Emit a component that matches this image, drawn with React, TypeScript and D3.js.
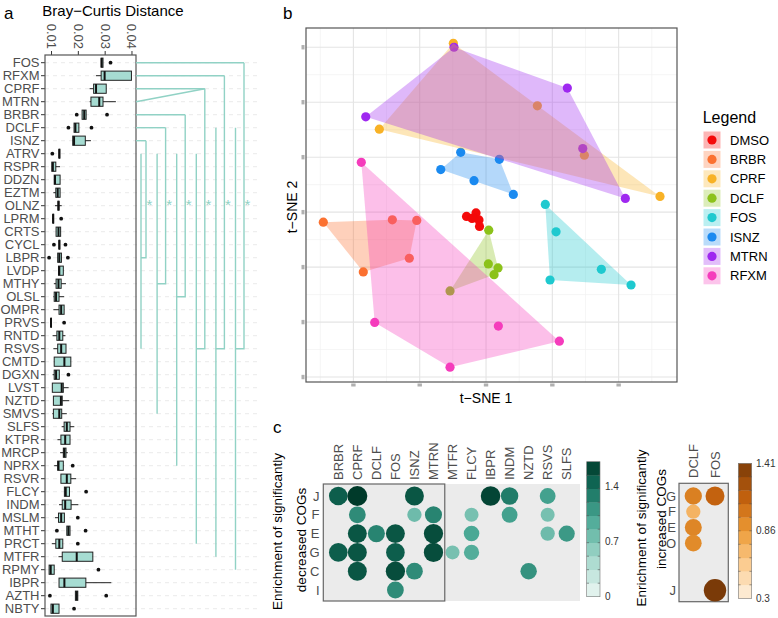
import React from "react";
import * as d3 from "d3";

const FONT = "'Liberation Sans', Arial, Helvetica, sans-serif";
const AXIS_GREY = "#4d4d4d";

// ---------------- Panel a data ----------------
const rowsA = ["FOS","RFXM","CPRF","MTRN","BRBR","DCLF","ISNZ","ATRV","RSPR","DDZN","EZTM","OLNZ","LPRM","CRTS","CYCL","LBPR","LVDP","MTHY","OLSL","OMPR","PRVS","RNTD","RSVS","CMTD","DGXN","LVST","NZTD","SMVS","SLFS","KTPR","MRCP","NPRX","RSVR","FLCY","INDM","MSLM","MTHT","PRCT","MTFR","RPMY","IBPR","AZTH","NBTY"];
const boxLo = [0.0285,0.0266,0.0242,0.0242,0.0214,0.0184,0.0179,0.0128,0.0101,0.0110,0.0107,0.0113,0.0102,0.0117,0.0128,0.0123,0.0126,0.0109,0.0107,0.0107,0.0097,0.0104,0.0107,0.0110,0.0104,0.0103,0.0107,0.0103,0.0138,0.0122,0.0132,0.0110,0.0135,0.0148,0.0128,0.0113,0.0157,0.0101,0.0126,0.0091,0.0128,0.0189,0.0098];
const boxQ1 = [0.0285,0.0285,0.0257,0.0247,0.0214,0.0184,0.0179,0.0128,0.0101,0.0110,0.0116,0.0124,0.0105,0.0117,0.0128,0.0123,0.0126,0.0117,0.0110,0.0128,0.0097,0.0120,0.0123,0.0110,0.0110,0.0103,0.0107,0.0107,0.0147,0.0135,0.0144,0.0123,0.0135,0.0148,0.0140,0.0126,0.0157,0.0116,0.0140,0.0091,0.0128,0.0189,0.0098];
const boxMed = [0.0287,0.0298,0.0266,0.0278,0.0222,0.0189,0.0184,0.0129,0.0105,0.0113,0.0123,0.0126,0.0106,0.0126,0.0129,0.0129,0.0129,0.0126,0.0117,0.0136,0.0098,0.0129,0.0136,0.0148,0.0117,0.0138,0.0135,0.0129,0.0157,0.0151,0.0148,0.0126,0.0157,0.0153,0.0151,0.0136,0.0163,0.0129,0.0194,0.0097,0.0148,0.0194,0.0105];
const boxQ3 = [0.0292,0.0398,0.0304,0.0292,0.0229,0.0202,0.0226,0.0130,0.0116,0.0132,0.0132,0.0128,0.0107,0.0134,0.0131,0.0137,0.0144,0.0136,0.0128,0.0147,0.0099,0.0142,0.0154,0.0172,0.0129,0.0144,0.0140,0.0138,0.0169,0.0169,0.0154,0.0144,0.0172,0.0167,0.0173,0.0148,0.0169,0.0142,0.0254,0.0110,0.0228,0.0198,0.0128];
const boxHi = [0.0292,0.0398,0.0304,0.0340,0.0229,0.0202,0.0247,0.0130,0.0132,0.0132,0.0132,0.0138,0.0107,0.0134,0.0131,0.0137,0.0144,0.0154,0.0147,0.0147,0.0099,0.0152,0.0154,0.0172,0.0129,0.0164,0.0166,0.0157,0.0185,0.0169,0.0161,0.0144,0.0192,0.0167,0.0200,0.0148,0.0169,0.0142,0.0254,0.0110,0.0323,0.0198,0.0128];
const boxOut = [[0.0320],[],[],[],[0.0194,0.0307],[0.0163,0.0249],[],[0.0103],[],[],[],[],[0.0136],[],[0.0109,0.0152],[0.0091,0.0161],[],[],[],[],[0.0147],[],[],[],[0.0163],[],[],[],[],[],[],[0.0179],[],[0.0229],[],[0.0198],[0.0120,0.0227],[0.0198],[],[0.0275],[],[0.0094,0.0304],[0.0184]];
const ticksA = [0.01, 0.02, 0.03, 0.04];

// significance brackets
const bracketTops = [["ISNZ"],["DCLF"],["BRBR"],["CPRF","MTRN"],["RFXM"],["FOS"]];
const bracketJoin = ["LBPR","MTHY","OLSL","RSVS","RSVS","RSVS"];
const bracketFrom = ["ATRV","ATRV","ATRV","ATRV","DCLF","DCLF"];
const bracketTo = ["RSVS","SMVS","NPRX","PRCT","MTFR","RPMY"];

// ---------------- Panel b data ----------------
const groupsB = ["DMSO","BRBR","CPRF","DCLF","FOS","ISNZ","MTRN","RFXM"];
const colorsB = ["#f40a0a","#fb7131","#f8b226","#8cc21a","#1fc9cf","#1a8af0","#9f28f0","#f53cbc"];
const ptsDMSO = [[-2.94,-0.78],[-1.51,-0.15],[-1.06,-1.42],[-0.98,-2.61],[-2.11,-1.15]];
const ptsBRBR = [[-24.54,-1.82],[-14.13,-1.39],[-10.45,-1.51],[-11.57,-8.39],[-18.51,-10.88]];
const ptsCPRF = [[-4.93,30.73],[-16.09,15.09],[26.24,2.86],[7.74,19.34],[14.83,10.35]];
const ptsDCLF = [[0.41,-3.28],[0.35,-9.42],[1.81,-10.15],[1.21,-11.37],[-5.43,-14.34]];
const ptsFOS = [[8.94,1.41],[10.56,-3.58],[17.39,-10.40],[9.65,-12.34],[21.87,-13.25]];
const ptsISNZ = [[-6.83,7.74],[-3.82,10.89],[2.01,9.61],[-1.81,5.73],[4.12,3.23]];
const ptsMTRN = [[-4.83,30.0],[-18.14,17.34],[12.26,22.57],[14.59,11.57],[21.01,2.50]];
const ptsRFXM = [[-18.81,9.07],[-16.79,-20.07],[1.86,-20.73],[11.06,-23.47],[-5.43,-28.21]];
const pointsB = [ptsDMSO, ptsBRBR, ptsCPRF, ptsDCLF, ptsFOS, ptsISNZ, ptsMTRN, ptsRFXM];
const xMajorB = [-20, -10, 0, 10, 20];
const xMinorB = [-25, -15, -5, 5, 15, 25];
const yMajorB = [-30, -20, -10, 0, 10, 20, 30];
const yMinorB = [-25, -15, -5, 5, 15, 25];

// ---------------- Panel c data ----------------
const decCols = ["BRBR","CPRF","DCLF","FOS","ISNZ","MTRN","MTFR","FLCY","IBPR","INDM","NZTD","RSVS","SLFS"];
const decRows = ["J","F","E","G","C","I"];
const decCells: [string, string, number][] = [
  ["BRBR","J",1.5],["BRBR","G",1.5],
  ["CPRF","J",1.72],["CPRF","F",1.2],["CPRF","E",1.55],["CPRF","G",1.55],["CPRF","C",1.55],
  ["DCLF","E",1.25],
  ["FOS","E",1.55],["FOS","G",1.5],["FOS","C",1.6],["FOS","I",1.2],
  ["ISNZ","J",1.55],["ISNZ","F",0.8],["ISNZ","C",1.2],
  ["MTRN","F",1.25],["MTRN","E",1.6],["MTRN","G",1.6],
  ["MTFR","G",0.75],
  ["FLCY","F",0.75],["FLCY","E",1.0],["FLCY","G",0.95],
  ["IBPR","J",1.65],
  ["INDM","J",1.3],["INDM","F",1.05],
  ["NZTD","C",1.15],
  ["RSVS","J",1.05],["RSVS","F",0.75],["RSVS","E",0.8],
  ["SLFS","E",1.1],
];
const decGroupCols = ["BRBR","CPRF","DCLF","FOS","ISNZ","MTRN"];
const decTicks = [0, 0.7, 1.4];
const incCols = ["DCLF","FOS"];
const incRows = ["G","F","E","O","J"];
const incSlots = ["G","F","E","O","_1","_2","J"];
const incCells: [string, string, number][] = [
  ["DCLF","G",0.98],["FOS","G",1.12],["DCLF","F",0.72],["DCLF","E",0.95],["DCLF","O",0.93],["FOS","J",1.41],
];
const incTicks = [0.3, 0.86, 1.41];

export default function App() {
  // ---- panel a scales
  const xA = d3.scaleLinear().domain([0.00757, 0.0415]).range([45, 136]);
  const yA = d3.scalePoint().domain(rowsA).range([62.7, 62.7 + 13 * 42]);
  const bxOuter = d3.scaleLinear().domain([0, 5]).range([146, 244]);

  // ---- panel b scales
  const xB = d3.scaleLinear().domain([-27.15, 28.8]).range([306, 677]);
  const yB = d3.scaleLinear().domain([-30.9, 33.5]).range([382, 28]);

  // ---- panel c scales
  const xC = d3.scalePoint().domain(decCols).range([338.3, 566.7]);
  const yC = d3.scalePoint().domain(decRows).range([496, 590]);
  const tealDomain = [0, 0.5, 1.0, 1.4, 1.72];
  const teal = d3.scaleLinear<string>().domain(tealDomain).range(["#eef7f4","#a3d8cb","#4aa895","#136e5b","#003a2a"]).interpolate(d3.interpolateRgb);
  const rTeal = d3.scaleLinear().domain([0.75, 1.72]).range([7, 10]);
  const xI = d3.scalePoint().domain(incCols).range([693.3, 715]);
  const yI = d3.scalePoint().domain(incSlots).range([496, 590.3]);
  const orange = d3.scaleLinear<string>().domain([0.3, 0.6, 0.86, 1.1, 1.41]).range(["#fdf1e1","#fbc98a","#eb9a35","#c8650f","#7a3a08"]).interpolate(d3.interpolateRgb);
  const rOrange = d3.scaleLinear().domain([0.7, 1.41]).range([7, 11.2]);

  const tealBar = d3.scaleLinear().domain([0, 1.72]).range([596.7, 461.7]);
  const orangeBar = d3.scaleLinear().domain([0.3, 1.41]).range([598.3, 463.3]);
  const tealBins = d3.range(10).map((i) => [i * 0.172, (i + 1) * 0.172]);
  const orangeBins = d3.range(10).map((i) => [0.3 + i * 0.111, 0.3 + (i + 1) * 0.111]);

  const hullLine = d3.line();

  return (
    <svg width={778} height={618} style={{ position: "absolute", left: 0, top: 0, background: "#fff" }} fontFamily={FONT}>
      <rect width={778} height={618} fill="#fff" />
      {/* ================= Panel a ================= */}
      <text x={4} y={19} fontSize={17}>a</text>
      <text x={113} y={16} fontSize={15} textAnchor="middle">Bray−Curtis Distance</text>
      {/* dashed row lines */}
      {rowsA.map((r) => (
        <line key={"dl" + r} x1={45} x2={258} y1={yA(r)} y2={yA(r)} stroke="#e3e3e3" strokeWidth={0.8} strokeDasharray="4,4" />
      ))}
      {/* x ticks on top */}
      {ticksA.map((t) => (
        <g key={"ta" + t}>
          <line x1={xA(t)} x2={xA(t)} y1={51} y2={55} stroke="#333" strokeWidth={1} />
          <text transform={`translate(${xA(t)},49) rotate(90)`} textAnchor="end" dy="0.35em" fontSize={13} fill={AXIS_GREY}>{t.toFixed(2)}</text>
        </g>
      ))}
      {/* row labels and ticks */}
      {rowsA.map((r) => (
        <g key={"rl" + r}>
          <line x1={41} x2={45} y1={yA(r)} y2={yA(r)} stroke="#333" />
          <text x={39.5} y={yA(r)} dy="0.35em" textAnchor="end" fontSize={13} fill={AXIS_GREY}>{r}</text>
        </g>
      ))}
      {/* boxes */}
      {rowsA.map((r, i) => {
        const y = yA(r)!;
        return (
          <g key={"bx" + r}>
            <line x1={xA(boxLo[i])} x2={xA(boxHi[i])} y1={y} y2={y} stroke="#222" strokeWidth={1} />
            <rect x={xA(boxQ1[i])} y={y - 4.6} width={Math.max(0.8, xA(boxQ3[i]) - xA(boxQ1[i]))} height={9.2} fill="#a6dcd2" stroke="#222" strokeWidth={1} />
            <line x1={xA(boxMed[i])} x2={xA(boxMed[i])} y1={y - 4.6} y2={y + 4.6} stroke="#111" strokeWidth={2} />
            {boxOut[i].map((o, j) => (
              <circle key={j} cx={xA(o)} cy={y} r={1.9} fill="#111" />
            ))}
          </g>
        );
      })}
      <rect x={45} y={55} width={91} height={561} fill="none" stroke="#555" strokeWidth={1.2} />
      {/* brackets */}
      {bracketTops.map((tops, i) => {
        const ox = bxOuter(i);
        const ix = ox - (i === 0 ? 5 : 8.5);
        const topY = yA(tops[0])!;
        const joinY = yA(bracketJoin[i])!;
        const col = "#91d2c5";
        return (
          <g key={"br" + i} stroke={col} strokeWidth={1.4} fill="none">
            <line x1={136} x2={ox} y1={topY} y2={topY} />
            {tops.length > 1 && <line x1={136} x2={ox} y1={yA(tops[1])!} y2={topY} />}
            <polyline points={`${ox},${topY} ${ox},${joinY} ${ix},${joinY}`} />
            <line x1={ix} x2={ix} y1={yA(bracketFrom[i])!} y2={yA(bracketTo[i])!} />
            <text x={ox + 3.5} y={210} fontSize={15} fill={col} stroke="none" textAnchor="middle">*</text>
          </g>
        );
      })}

      {/* ================= Panel b ================= */}
      <text x={283} y={19} fontSize={17}>b</text>
      <rect x={306} y={28} width={371} height={354} fill="#fff" />
      {xMinorB.map((v) => (
        <line key={"xmn" + v} x1={xB(v)} x2={xB(v)} y1={28} y2={382} stroke="#f0f0f0" strokeWidth={0.7} />
      ))}
      {yMinorB.map((v) => (
        <line key={"ymn" + v} x1={306} x2={677} y1={yB(v)} y2={yB(v)} stroke="#f0f0f0" strokeWidth={0.7} />
      ))}
      {xMajorB.map((v) => (
        <line key={"xmj" + v} x1={xB(v)} x2={xB(v)} y1={28} y2={382} stroke="#e4e4e4" strokeWidth={1.1} />
      ))}
      {yMajorB.map((v) => (
        <line key={"ymj" + v} x1={306} x2={677} y1={yB(v)} y2={yB(v)} stroke="#e4e4e4" strokeWidth={1.1} />
      ))}
      {pointsB.map((pts, gi) =>
        pts.map((p, j) => <circle key={"pt" + gi + "-" + j} cx={xB(p[0])} cy={yB(p[1])} r={4.6} fill={colorsB[gi]} />)
      )}
      {pointsB.map((pts, gi) => {
        const hull = d3.polygonHull(pts.map((p) => [xB(p[0]), yB(p[1])] as [number, number]));
        return hull ? <path key={"hull" + gi} d={hullLine(hull)! + "Z"} fill={colorsB[gi]} fillOpacity={0.33} stroke="none" /> : null;
      })}
      <rect x={306} y={28} width={371} height={354} fill="none" stroke="#555" strokeWidth={1.2} />
      {xMajorB.map((v) => (
        <rect key={"xtk" + v} x={xB(v) - 2.2} y={383.5} width={4.4} height={3} fill="#b0b0b0" />
      ))}
      {yMajorB.map((v) => (
        <rect key={"ytk" + v} x={301.5} y={yB(v) - 2.2} width={3} height={4.4} fill="#b0b0b0" />
      ))}
      <text x={486} y={403} fontSize={14} textAnchor="middle">t−SNE 1</text>
      <text transform="translate(297,207) rotate(-90)" fontSize={14} textAnchor="middle">t−SNE 2</text>
      {/* legend */}
      <text x={702.7} y={122.7} fontSize={16}>Legend</text>
      {groupsB.map((g, i) => {
        const cy = 140 + i * 19.4;
        return (
          <g key={"lg" + g}>
            <rect x={703.5} y={cy - 8.5} width={17} height={17} fill={colorsB[i]} fillOpacity={0.3} />
            <circle cx={712} cy={cy} r={4.6} fill={colorsB[i]} />
            <text x={730} y={cy} dy="0.36em" fontSize={13}>{g}</text>
          </g>
        );
      })}

      {/* ================= Panel c ================= */}
      <text x={273} y={433} fontSize={17}>c</text>
      <text transform="translate(281.5,531.5) rotate(-90)" fontSize={13.5} textAnchor="middle">Enrichment of significantly</text>
      <text transform="translate(306.4,540) rotate(-90)" fontSize={13.5} textAnchor="middle">decreased COGs</text>
      <rect x={323.3} y={484} width={256.7} height={117} fill="#ebebeb" />
      {decCols.map((c) => (
        <text key={"dc" + c} transform={`translate(${xC(c)},480) rotate(-90)`} dy="0.35em" fontSize={13} fill={AXIS_GREY}>{c}</text>
      ))}
      {decRows.map((r) => (
        <text key={"dr" + r} x={319.5} y={yC(r)} dy="0.36em" textAnchor="end" fontSize={13} fill={AXIS_GREY}>{r}</text>
      ))}
      {decCells.map(([c, r, v]) => (
        <circle key={"dcell" + c + r} cx={xC(c)} cy={yC(r)} r={rTeal(v)} fill={teal(v)} />
      ))}
      <rect x={323.3} y={484} width={xC(decGroupCols[decGroupCols.length - 1])! + 11.3 - 323.3} height={117} fill="none" stroke="#666" strokeWidth={1.2} />
      {/* teal colorbar */}
      {tealBins.map(([a, b], i) => (
        <rect key={"tb" + i} x={586.7} y={tealBar(b)} width={13.3} height={tealBar(a) - tealBar(b) + 0.3} fill={teal((a + b) / 2)} />
      ))}
      <rect x={586.7} y={461.7} width={13.3} height={135} fill="none" stroke="#777" strokeWidth={0.6} />
      {tealBins.slice(1).map(([a], i) => (
        <g key={"tbt" + i} stroke="#555" strokeWidth={0.6}>
          <line x1={586.7} x2={589} y1={tealBar(a)} y2={tealBar(a)} />
          <line x1={597.7} x2={600} y1={tealBar(a)} y2={tealBar(a)} />
        </g>
      ))}
      {decTicks.map((t) => (
        <text key={"dt" + t} x={605} y={tealBar(t)} dy="0.35em" fontSize={10} fill="#333">{t}</text>
      ))}

      {/* increased */}
      <text transform="translate(646.4,528) rotate(-90)" fontSize={13.5} textAnchor="middle">Enrichment of significantly</text>
      <text transform="translate(666.4,519) rotate(-90)" fontSize={13.5} textAnchor="middle">increased COGs</text>
      <rect x={679} y={483.3} width={49.3} height={118.4} fill="#ebebeb" stroke="#666" strokeWidth={1.2} />
      {incCols.map((c) => (
        <text key={"ic" + c} transform={`translate(${xI(c)},478) rotate(-90)`} dy="0.35em" fontSize={13} fill={AXIS_GREY}>{c}</text>
      ))}
      {incRows.map((r) => (
        <text key={"ir" + r} x={676} y={yI(r)} dy="0.36em" textAnchor="end" fontSize={13} fill={AXIS_GREY}>{r}</text>
      ))}
      {incCells.map(([c, r, v]) => (
        <circle key={"icell" + c + r} cx={xI(c)} cy={yI(r)} r={rOrange(v)} fill={orange(v)} />
      ))}
      {orangeBins.map(([a, b], i) => (
        <rect key={"ob" + i} x={738.3} y={orangeBar(b)} width={13.4} height={orangeBar(a) - orangeBar(b) + 0.3} fill={orange((a + b) / 2)} />
      ))}
      <rect x={738.3} y={463.3} width={13.4} height={135} fill="none" stroke="#777" strokeWidth={0.6} />
      {orangeBins.slice(1).map(([a], i) => (
        <g key={"obt" + i} stroke="#555" strokeWidth={0.6}>
          <line x1={738.3} x2={740.6} y1={orangeBar(a)} y2={orangeBar(a)} />
          <line x1={749.4} x2={751.7} y1={orangeBar(a)} y2={orangeBar(a)} />
        </g>
      ))}
      {incTicks.map((t) => (
        <text key={"it" + t} x={756} y={orangeBar(t)} dy="0.35em" fontSize={10} fill="#333">{t}</text>
      ))}
    </svg>
  );
}
